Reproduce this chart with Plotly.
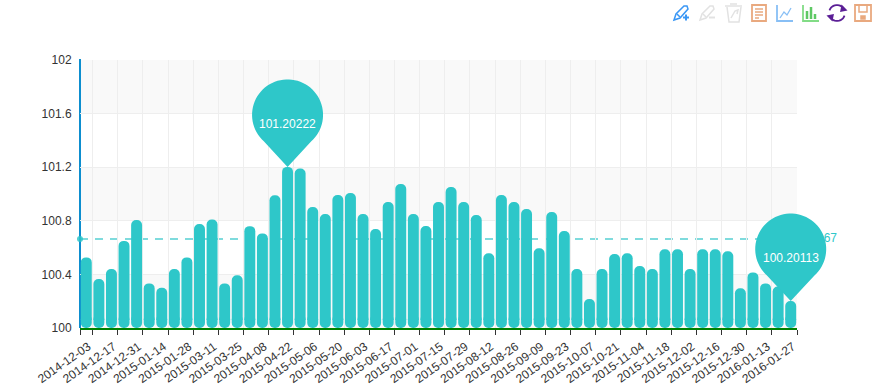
import numpy as np
import plotly.graph_objects as go

tick_labels = ["2014-12-03","2014-12-17","2014-12-31","2015-01-14","2015-01-28","2015-03-11","2015-03-25",
  "2015-04-08","2015-04-22","2015-05-06","2015-05-20","2015-06-03","2015-06-17","2015-07-01","2015-07-15",
  "2015-07-29","2015-08-12","2015-08-26","2015-09-09","2015-09-23","2015-10-07","2015-10-21","2015-11-04",
  "2015-11-18","2015-12-02","2015-12-16","2015-12-30","2016-01-13","2016-01-27"]
values = [100.527,100.366,100.44,100.65,100.806,100.333,100.30,100.44,100.527,100.776,100.81,100.333,100.393,
  100.76,100.706,100.99,101.20222,101.19,100.903,100.851,100.993,101.007,100.851,100.739,100.94,101.075,100.851,
  100.761,100.94,101.052,100.94,100.843,100.557,100.993,100.94,100.888,100.595,100.866,100.724,100.44,100.216,
  100.44,100.552,100.557,100.463,100.44,100.587,100.587,100.44,100.587,100.587,100.572,100.296,100.415,100.333,
  100.31,100.20113]
mean_value = 100.665
mean_label = "100.67"
y_ticks = [100, 100.4, 100.8, 101.2, 101.6, 102]
y_text = ["100", "100.4", "100.8", "101.2", "101.6", "102"]

TEAL = "#2ec7c9"
FONT = "Liberation Sans"
L, R, T, B = 80, 797, 60, 328
idx = list(range(len(values)))
x_range = [-0.5, len(values) - 0.5]
stub_top = 100.1
low = y_ticks[0] + 0.06

def xfrac(v): return (v - x_range[0]) / (x_range[1] - x_range[0])
def yfrac(v): return (v - y_ticks[0]) / (y_ticks[-1] - y_ticks[0])

fig = go.Figure()
fig.add_trace(go.Bar(x=idx, y=[y_ticks[0] - stub_top] * len(idx), base=[stub_top] * len(idx),
                     marker=dict(color=TEAL, cornerradius=5, line_width=0), width=0.87, hoverinfo="skip", showlegend=False))
fig.add_trace(go.Bar(x=idx, y=values, marker=dict(color=TEAL, cornerradius=5, line_width=0), width=0.87,
                     yaxis="y2", showlegend=False))
fig.add_trace(go.Scatter(x=[x_range[0]], y=[mean_value], mode="markers", marker=dict(color=TEAL, size=6, opacity=0.85),
                         cliponaxis=False, showlegend=False, hoverinfo="skip"))
fig.add_trace(go.Scatter(x=[x_range[1]], y=[mean_value], mode="text", text=["\u00a0" + mean_label], textposition="middle right",
                         textfont=dict(color=TEAL, size=12, family=FONT), cliponaxis=False, showlegend=False, hoverinfo="skip"))

shapes = []
for i in range(len(y_ticks) - 1):
    if i % 2 == 0:
        shapes.append(dict(type="rect", xref="paper", x0=0, x1=1, yref="y", y0=y_ticks[i], y1=y_ticks[i + 1],
                           fillcolor="#f9f9f9", line_width=0, layer="below"))
shapes.append(dict(type="line", xref="paper", x0=0, x1=1, yref="y", y0=mean_value, y1=mean_value,
                   line=dict(color="#55d0d2", width=1.5, dash="8px,7px"), layer="between"))
shapes.append(dict(type="line", xref="paper", x0=0, x1=0, yref="paper", y0=0, y1=1.004,
                   line=dict(color="#0d8ecf", width=2), layer="between"))

th = np.linspace(np.radians(-48), np.radians(228), 60)
R_PIN, D_PIN = 35.5, 52
pin = "M 0 0 " + " ".join(f"L {R_PIN*np.cos(t):.2f} {D_PIN + R_PIN*np.sin(t):.2f}" for t in th) + " Z"
annotations = []
for i in (int(np.argmax(values)), int(np.argmin(values))):
    shapes.append(dict(type="path", path=pin, xsizemode="pixel", ysizemode="pixel", xref="paper", yref="paper",
                       xanchor=xfrac(i), yanchor=yfrac(values[i]), fillcolor=TEAL, line_width=0, layer="above"))
    annotations.append(dict(x=xfrac(i), y=yfrac(values[i]), yshift=43, xref="paper", yref="paper", text=f"{values[i]}",
                            xanchor="center", yanchor="middle", showarrow=False,
                            font=dict(color="white", size=12, family=FONT)))

def px(x): return (x - L) / (R - L)
def py(y): return (B - y) / (B - T)
def icon(pts, color, w=1.5, closed=False, fill=None):
    d = "M " + " L ".join(f"{px(a):.5f} {py(b):.5f}" for a, b in pts) + (" Z" if closed else "")
    shapes.append(dict(type="path", path=d, xref="paper", yref="paper", line=dict(color=color, width=w),
                       fillcolor=fill if fill else "rgba(0,0,0,0)", layer="above"))

BLUE, GREY, ORANGE, LBLUE, GREEN, PURPLE = "#3a97f5", "#e2e2e2", "#e9a97f", "#88bff5", "#82dc86", "#5b1f96"
for ox, col in ((673, BLUE), (699, GREY)):
    icon([(ox+1, 20), (ox+3, 14), (ox+11, 6), (ox+14, 6), (ox+15, 9), (ox+7, 18)], col, closed=True)
    icon([(ox+4, 14), (ox+7, 17)], col)
    icon([(ox+10, 17.5), (ox+16, 17.5)], col, 2)
icon([(686, 14.5), (686, 20.5)], BLUE, 2)
icon([(725, 6), (742, 6)], GREY); icon([(730, 4), (737, 4)], GREY)
icon([(727, 7), (729, 22), (739, 22), (741, 7)], GREY)
icon([(731, 18), (735, 11), (738, 10), (737, 14)], GREY)
icon([(752, 5), (766, 5), (766, 21), (752, 21)], ORANGE, 1.8, True)
for yy, end in ((9, 763), (12, 763), (15, 763), (18, 759)):
    icon([(755, yy), (end, yy)], ORANGE, 1.5)
icon([(777, 5), (777, 21), (793, 21)], LBLUE, 1.8)
icon([(780, 18), (784, 12), (787, 15), (791, 8)], LBLUE, 1.3)
icon([(803, 5), (803, 21), (819, 21)], GREEN, 1.8)
for xx, top in ((807, 11), (811, 7), (815, 14)):
    icon([(xx, 19), (xx, top)], "#5ec864", 2.5)
a1 = np.linspace(np.radians(200), np.radians(340), 14)
a2 = a1 + np.pi
icon([(837 + 8*np.cos(t), 13 + 8*np.sin(t)) for t in a1], PURPLE, 1.8)
icon([(837 + 8*np.cos(t), 13 + 8*np.sin(t)) for t in a2], PURPLE, 1.8)
icon([(842, 6), (846, 10), (841, 11)], PURPLE, 1.5, True, PURPLE)
icon([(832, 20), (828, 16), (833, 15)], PURPLE, 1.5, True, PURPLE)
icon([(855, 5), (871, 5), (871, 21), (855, 21)], ORANGE, 1.8, True)
icon([(859, 5), (859, 12), (867, 12), (867, 5)], ORANGE, 1.5)
icon([(861, 16), (865, 16), (865, 19), (861, 19)], ORANGE, 1.5, True, ORANGE)

fig.update_layout(
    width=876, height=388, margin=dict(l=L, r=876 - R, t=T, b=388 - B, autoexpand=False), autosize=False,
    paper_bgcolor="white", plot_bgcolor="rgba(0,0,0,0)", barmode="overlay", showlegend=False,
    shapes=shapes, annotations=annotations,
    xaxis=dict(range=x_range, tickmode="array", tickvals=idx[::2], ticktext=tick_labels, tickangle=-35,
               ticks="", showgrid=False, zeroline=False, showline=True, linecolor="#008000", linewidth=2,
               automargin=False,
               tickfont=dict(size=12, color="#333", family=FONT), anchor="y", ticklabelstandoff=5, ticklabelshift=2,
               minor=dict(tickmode="array", tickvals=[x_range[0]] + [k + 0.5 for k in idx[::2]],
                          ticks="outside", ticklen=5, tickwidth=1, tickcolor="#333",
                          showgrid=True, gridcolor="#eeeeee", gridwidth=1)),
    yaxis=dict(range=[y_ticks[0], y_ticks[-1]], tickmode="array", tickvals=y_ticks, ticktext=y_text, ticks="outside",
               ticklen=0, showgrid=True, gridcolor="#eeeeee", gridwidth=1, zeroline=False, showline=False, automargin=False,
               tickfont=dict(size=12, color="#333", family=FONT), domain=[0, 1], ticklabelstandoff=5),
    yaxis2=dict(range=[low, y_ticks[-1]], domain=[(low - y_ticks[0]) / (y_ticks[-1] - y_ticks[0]), 1], visible=False,
                anchor="x", showgrid=False),
)
fig.write_html("out.html", post_script="document.body.style.margin='0';", config=dict(displayModeBar=False))
